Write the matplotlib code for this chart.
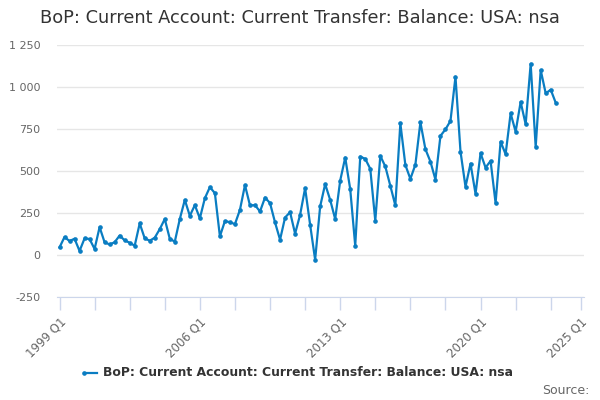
import matplotlib
matplotlib.use("Agg")
import matplotlib.pyplot as plt
import numpy as np

title = "BoP: Current Account: Current Transfer: Balance: USA: nsa"
start_year = 1999
values = [45, 107, 83, 97, 24, 99, 95, 36, 166, 75,
          63, 76, 116, 87, 73, 55, 188, 99, 85, 103,
          154, 214, 97, 79, 214, 328, 233, 297, 218, 338,
          404, 368, 111, 202, 195, 184, 269, 416, 295, 297,
          259, 342, 309, 194, 91, 223, 255, 127, 239, 398,
          180, -28, 289, 422, 328, 214, 443, 580, 392, 55,
          586, 572, 513, 204, 590, 527, 412, 295, 784, 536,
          453, 538, 790, 630, 556, 449, 709, 748, 798, 1061,
          616, 406, 544, 364, 606, 520, 560, 309, 675, 600,
          843, 734, 911, 778, 1138, 643, 1101, 962, 984, 906]
y_ticks = [-250, 0, 250, 500, 750, 1000, 1250]
x_label_years = [1999, 2006, 2013, 2020, 2025]

color = "#0a7dc2"
x = np.arange(len(values))

fig = plt.figure(figsize=(6, 4), dpi=100)
ax = fig.add_axes([0.095, 0.2575, 0.878, 0.63])
ax.plot(x, values, color=color, lw=1.6, marker="o", ms=2.3, zorder=3)

ax.set_ylim(-250, 1250)
ax.set_xlim(-0.5, 104.6)
ax.set_yticks(y_ticks)
ax.set_yticklabels([f"{v:,}".replace(",", " ") for v in y_ticks])
ax.grid(axis="y", color="#e6e6e6", lw=1)
ax.set_axisbelow(True)

label_pos = [(yr - start_year) * 4 for yr in x_label_years]
ax.set_xticks(label_pos)
ax.set_xticklabels([f"{yr} Q1" for yr in x_label_years], rotation=45,
                   ha="right", va="top", rotation_mode="anchor",
                   color="#666666", fontsize=8.5)
minor = [p for p in range(0, 105, 7) if p not in label_pos]
ax.set_xticks(minor, minor=True)
ax.tick_params(axis="x", which="both", length=9, color="#ccd6eb", width=1, pad=4)
ax.tick_params(axis="y", length=0, labelcolor="#666666", labelsize=8, pad=12)

for s in ["top", "right", "left"]:
    ax.spines[s].set_visible(False)
ax.spines["bottom"].set_color("#ccd6eb")

fig.text(0.5, 0.955, title, ha="center", va="center", fontsize=12.8, color="#333333")

# legend
fig.lines.append(plt.Line2D([0.14, 0.162], [0.0675, 0.0675], transform=fig.transFigure,
                            color=color, lw=1.6, marker="o", ms=2.3, markevery=[0]))
fig.text(0.172, 0.0675, title, ha="left", va="center", fontsize=8.9,
         fontweight="bold", color="#333333")
fig.text(0.983, 0.025, "Source:", ha="right", va="center", fontsize=9, color="#666666")

fig.savefig("out.png", dpi=100)
